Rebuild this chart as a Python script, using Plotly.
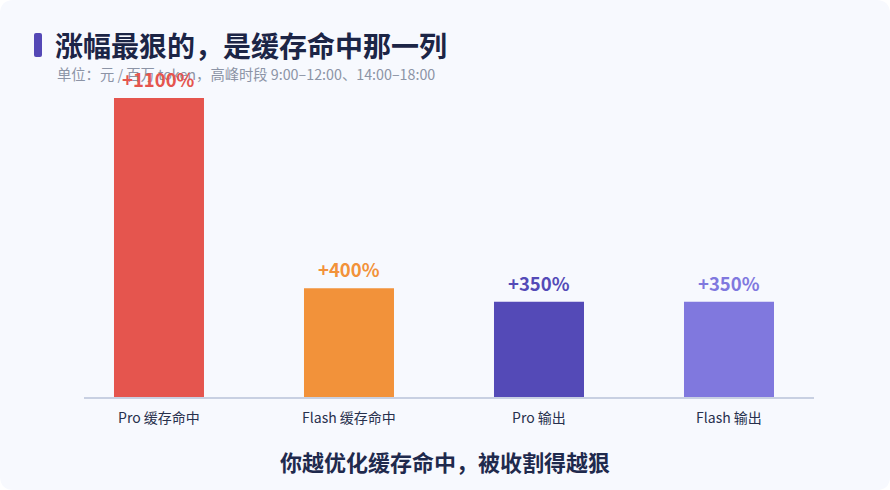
import plotly.graph_objects as go

categories = ["Pro 缓存命中", "Flash 缓存命中", "Pro 输出", "Flash 输出"]
increase_pct = [1100, 400, 350, 350]
labels = ["+1100%", "+400%", "+350%", "+350%"]
colors = ["#E5554E", "#F2923A", "#544AB7", "#8078DE"]

W, H = 890, 490
ML, MR, MT, MB = 84, 76, 68, 93
PW, PH = W - ML - MR, H - MT - MB

def px(x):
    return (x - ML) / PW

def py(y):
    return (H - MB - y) / PH

FONT = "Noto Sans CJK SC"

fig = go.Figure()
fig.add_trace(go.Bar(
    x=categories, y=increase_pct,
    marker=dict(color=colors, line=dict(width=0)),
    width=0.4737, hoverinfo="skip",
))

annotations = [
    dict(x=px(53), y=py(45), xref="paper", yref="paper", xanchor="left", yanchor="middle",
         text="涨幅最狠的，是缓存命中那一列", showarrow=False,
         font=dict(family=FONT, size=28, color="#1C2546", weight="bold")),
    dict(x=px(55), y=py(74), xref="paper", yref="paper", xanchor="left", yanchor="middle",
         text="单位：元 / 百万 token，高峰时段 9:00–12:00、14:00–18:00", showarrow=False,
         font=dict(family=FONT, size=14.3, color="#8C94A6")),
    dict(x=px(445), y=py(461), xref="paper", yref="paper", xanchor="center", yanchor="middle",
         text="你越优化缓存命中，被收割得越狠", showarrow=False,
         font=dict(family=FONT, size=22, color="#1F2A4D", weight="bold")),
]
for c, v, t, col in zip(categories, increase_pct, labels, colors):
    annotations.append(dict(x=c, y=v, xref="x", yref="y", text=t, showarrow=False,
                            yanchor="bottom", yshift=4,
                            font=dict(family=FONT, size=18.5, color=col, weight="bold")))

# rounded card background
r = 14
x0, x1, y0, y1 = 0, W, 0, H
def P(x, y):
    return f"{px(x):.5f},{py(y):.5f}"
card = (f"M {P(x0 + r, y0)} L {P(x1 - r, y0)} Q {P(x1, y0)} {P(x1, y0 + r)} "
        f"L {P(x1, y1 - r)} Q {P(x1, y1)} {P(x1 - r, y1)} L {P(x0 + r, y1)} "
        f"Q {P(x0, y1)} {P(x0, y1 - r)} L {P(x0, y0 + r)} Q {P(x0, y0)} {P(x0 + r, y0)} Z")
ar = 2
ax0, ax1, ay0, ay1 = 34, 42, 33, 57
accent = (f"M {P(ax0 + ar, ay0)} L {P(ax1 - ar, ay0)} Q {P(ax1, ay0)} {P(ax1, ay0 + ar)} "
          f"L {P(ax1, ay1 - ar)} Q {P(ax1, ay1)} {P(ax1 - ar, ay1)} L {P(ax0 + ar, ay1)} "
          f"Q {P(ax0, ay1)} {P(ax0, ay1 - ar)} L {P(ax0, ay0 + ar)} Q {P(ax0, ay0)} {P(ax0 + ar, ay0)} Z")

shapes = [
    dict(type="path", path=card, xref="paper", yref="paper", fillcolor="#F7F9FE",
         line=dict(width=0), layer="below"),
    dict(type="path", path=accent, xref="paper", yref="paper", fillcolor="#5448B6",
         line=dict(width=0), layer="above"),
]

fig.update_layout(
    width=W, height=H,
    margin=dict(l=ML, r=MR, t=MT, b=MB, pad=0),
    paper_bgcolor="#FFFFFF", plot_bgcolor="rgba(0,0,0,0)",
    showlegend=False, bargap=0.5,
    annotations=annotations, shapes=shapes,
    xaxis=dict(range=[-0.3947, 3.4474], showline=True, linecolor="#C8D0E2", linewidth=2,
               showgrid=False, zeroline=False, ticks="", fixedrange=True,
               ticklabelstandoff=7,
               tickfont=dict(family=FONT, size=14, color="#27304D")),
    yaxis=dict(range=[0, 1210], visible=False, showgrid=False, zeroline=False, fixedrange=True),
)

fig.write_html("out.html", config={"displayModeBar": False},
               post_script="document.body.style.margin='0';document.body.style.overflow='hidden';")
